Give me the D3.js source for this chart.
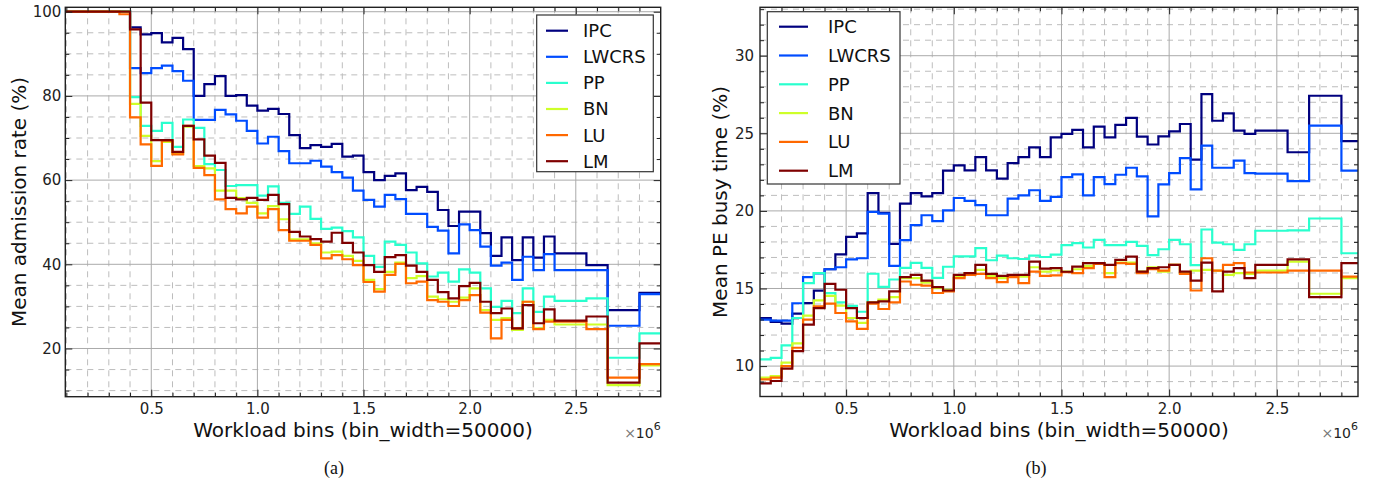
<!DOCTYPE html>
<html>
<head>
<meta charset="utf-8">
<script src="https://cdn.jsdelivr.net/npm/d3@7"></script>
<style>
  body { margin: 0; background: #fff; }
  svg { display: block; }
  .tick text { font-family: "DejaVu Sans", sans-serif; fill: #222; }
</style>
</head>
<body>
<svg width="1375" height="485"></svg>
<script>
// bin start of each step, in units of 1e6 (bin_width = 50000)
var bins = [0.10,0.15,0.20,0.25,0.30,0.35,0.40,0.45,0.50,0.55,0.60,0.65,0.70,0.75,0.80,0.85,0.90,0.95,
  1.00,1.05,1.10,1.15,1.20,1.25,1.30,1.35,1.40,1.45,1.50,1.55,1.60,1.65,1.70,1.75,1.80,1.85,1.90,1.95,
  2.00,2.05,2.10,2.15,2.20,2.25,2.30,2.35,2.40,2.45,2.50,2.55,2.60,2.65,2.70,2.75,2.80,2.85];

var seriesNames = ["IPC", "LWCRS", "PP", "BN", "LU", "LM"];

// (a) mean admission rate (%)
var admIPC = [100,100,100,100,100,100, 96.3,94.6,94.9,92.7,93.8,91.1,80.0,82.8,84.7,80.0,
  80.2,77.7,76.5,76.9,75.7,70.7,67.6,68.3,67.9,68.6, 65.6,65.8,61.9,60.0,61.0,61.6,57.6,58.4,57.2,52.9,
  49.1,52.5,52.5,47.4,42.0,46.4,41.0,46.4,41.6,46.6, 42.6,42.6,42.6,39.8,39.8,29.1,29.1,29.1,33.2,33.2];
var admLWCRS = [100,100,100,100,100,100, 86.6,85.4,86.6,87.2,85.9,83.6,74.3,74.3,76.7,75.6,
  74.1,71.7,68.7,70.3,66.9,64.0,64.0,64.6,63.2,61.9, 60.6,57.5,55.3,53.7,56.5,55.5,52.0,52.0,48.9,48.0,
  42.6,49.5,48.1,44.2,39.7,40.4,36.3,41.8,38.6,42.4, 38.6,38.6,38.6,38.6,38.6,25.4,25.4,25.4,32.9,32.9];
var admPP = [100,100,100,100,100,100, 79.7,72.9,71.7,73.6,67.9,74.4,72.4,63.8,62.4,58.6,
  58.8,58.8,56.3,58.5,54.6,52.0,53.7,50.8,48.4,48.7, 47.9,46.4,42.0,39.4,45.4,44.6,42.8,40.2,37.1,38.0,
  35.9,38.8,38.0,34.3,29.9,31.3,28.4,34.3,28.7,32.3, 31.3,31.3,31.3,31.9,31.9,17.8,17.8,17.8,23.6,23.6];
var admBN = [100,100,100,100,100,100, 78.1,70.5,64.5,69.1,66.2,72.7,63.3,62.8,57.5,57.5,
  55.7,54.6,52.1,53.8,50.7,45.9,45.9,45.0,42.8,43.0, 42.0,40.8,36.3,34.1,38.2,40.4,36.7,37.2,32.3,31.7,
  31.1,32.1,34.3,29.1,26.8,27.2,24.4,31.1,24.8,26.8, 25.7,25.7,25.7,25.7,25.7,11.3,11.3,11.3,16.0,16.0];
var admLU = [100,100,100,100,100,99.4, 74.9,68.5,63.4,69.4,66.1,72.9,62.9,61.2,55.4,53.1,
  52.1,53.7,51.1,53.1,48.1,45.6,45.6,44.6,41.4,42.2, 41.2,39.8,35.8,33.5,37.5,40.1,35.5,35.9,31.5,31.1,
  30.1,31.5,32.7,28.5,22.4,26.8,24.8,31.1,24.6,26.4, 26.4,26.4,26.4,24.6,24.6,13.1,13.1,13.1,16.3,16.3];
var admLM = [100,100,100,100,100,100, 95.8,78.4,69.5,69.5,66.7,72.9,69.7,65.8,64.1,55.8,
  55.4,55.8,55.3,56.5,54.3,47.7,46.6,46.0,45.4,47.5, 45.1,42.8,39.8,38.2,41.7,42.2,39.7,38.2,36.3,33.4,
  31.9,34.8,35.6,31.1,28.4,29.5,24.8,30.3,26.0,29.3, 26.6,26.6,26.6,27.6,27.6,11.9,11.9,11.9,21.2,21.2];

// (b) mean PE busy time (%)
var busyIPC = [13.1,12.85,12.74,13.38,14.06,14.86,16.24,17.2,18.33,18.55, 21.15,19.87,17.87,20.47,21.15,20.94,21.15,22.6,
  22.93,22.61,23.46,22.61,22.08,23.08,23.46,24.1,23.46,24.74, 24.96,25.22,24.1,25.43,24.74,25.54,25.99,24.79,24.28,24.8,
  25.13,25.6,23.3,27.53,25.81,26.28,25.17,24.96,25.17,25.17, 25.17,23.78,23.78,27.42,27.42,27.42,24.49,24.49];
var busyLWCRS = [13.0,12.93,12.93,14.05,15.73,15.98,16.24,16.37,16.88,16.95, 19.94,19.83,16.46,18.12,19.08,19.72,19.34,20.04,
  20.83,20.64,20.37,19.72,19.72,20.79,21.0,21.33,20.64,20.9, 22.18,22.35,21.0,22.18,21.72,22.33,22.78,22.22,19.65,21.71,
  22.44,23.4,21.39,24.21,22.78,22.78,23.24,22.44,22.4,22.4, 22.4,21.92,21.92,25.49,25.49,25.49,22.6,22.6];
var busyPP = [10.43,10.53,11.33,13.1,15.35,15.99,14.7,14.1,13.88,13.5, 15.95,15.1,15.58,16.33,16.65,16.33,15.68,16.4,
  17.07,17.07,17.6,16.82,17.12,16.95,16.9,17.12,17.03,17.18, 17.8,17.92,17.64,18.13,17.79,17.79,18.0,17.74,17.15,17.53,
  18.13,17.85,16.5,18.8,17.96,17.85,17.49,17.85,18.72,18.72, 18.72,18.75,18.75,19.51,19.51,19.51,17.27,17.27];
var busyBN = [9.26,9.36,10.22,11.46,13.25,14.23,14.53,13.89,13.1,12.78, 14.1,14.28,14.45,15.67,15.67,15.38,15.03,14.92,
  15.77,15.99,16.2,15.81,15.67,15.77,15.77,16.37,16.09,16.16, 16.09,16.24,16.46,16.63,15.99,16.67,16.67,16.09,16.37,16.09,
  16.52,15.99,16.15,16.2,16.15,15.88,15.99,15.94,16.15,16.15, 16.15,16.73,16.73,14.66,14.66,14.66,15.67,15.67];
var busyLU = [9.15,9.26,10.0,11.18,12.99,13.85,14.02,13.42,12.88,12.4, 14.02,13.68,14.1,15.45,15.24,15.19,14.71,14.81,
  15.67,15.88,15.94,15.67,15.41,15.73,15.35,16.09,15.81,15.85, 16.06,15.99,16.31,16.58,15.73,16.63,16.58,15.99,16.24,16.15,
  16.52,15.94,14.87,16.95,16.15,16.52,16.63,16.03,16.03,16.03, 16.03,16.15,16.15,16.15,16.15,16.15,15.77,15.77];
var busyLM = [8.89,9.04,9.83,10.96,12.67,13.74,15.3,14.92,13.74,13.1, 14.1,14.17,14.81,15.73,15.88,15.51,15.09,14.87,
  15.88,15.99,16.52,15.94,15.81,15.88,15.88,16.73,16.28,16.31, 16.08,16.41,16.63,16.63,16.52,16.84,17.05,16.09,16.31,16.37,
  16.52,16.09,15.51,16.67,14.81,16.09,16.31,15.67,16.52,16.52, 16.52,16.88,16.88,14.45,14.45,14.45,16.63,16.63];

// tick labels
var xTicks = [0.5, 1.0, 1.5, 2.0, 2.5];
var admTicks = [20, 40, 60, 80, 100];
var busyTicks = [10, 15, 20, 25, 30];

// jet colours, one per series
var colors = ["#00007f", "#004cff", "#29ffce", "#ceff29", "#ff6800", "#7f0000"];

var svg = d3.select("svg");

function drawPanel(cfg) {
    var w = cfg.right - cfg.left,
        h = cfg.bottom - cfg.top;

    var x = d3.scaleLinear().domain(cfg.xDomain).range([0, w]);
    var y = d3.scaleLinear().domain(cfg.yDomain).range([h, 0]);

    var g = svg.append("g")
        .attr("transform", "translate(" + cfg.left + "," + cfg.top + ")");

    // minor / major tick positions
    var xMinor = d3.range(1, 30).map(function(i) { return i / 10; })
        .filter(function(v) { return v > cfg.xDomain[0] && v < cfg.xDomain[1] && xTicks.indexOf(v) < 0; });
    var yMinor = d3.range(Math.ceil(cfg.yDomain[0] / cfg.yMinorStep), Math.floor(cfg.yDomain[1] / cfg.yMinorStep) + 1)
        .map(function(i) { return i * cfg.yMinorStep; })
        .filter(function(v) { return cfg.yTicks.indexOf(v) < 0; });

    // dashed minor grid
    g.selectAll(".gx-minor").data(xMinor).enter().append("line")
        .attr("x1", x).attr("x2", x).attr("y1", 0).attr("y2", h)
        .style("stroke", "#bdbdbd").style("stroke-dasharray", "6,5");
    g.selectAll(".gy-minor").data(yMinor).enter().append("line")
        .attr("x1", 0).attr("x2", w).attr("y1", y).attr("y2", y)
        .style("stroke", "#bdbdbd").style("stroke-dasharray", "6,5");

    // solid major grid
    g.selectAll(".gx").data(xTicks).enter().append("line")
        .attr("x1", x).attr("x2", x).attr("y1", 0).attr("y2", h)
        .style("stroke", "#aaaaaa");
    g.selectAll(".gy").data(cfg.yTicks).enter().append("line")
        .attr("x1", 0).attr("x2", w).attr("y1", y).attr("y2", y)
        .style("stroke", "#aaaaaa");

    // step lines, the last step runs to the right edge
    var line = d3.line()
        .curve(d3.curveStepAfter)
        .x(function(d) { return x(d[0]); })
        .y(function(d) { return y(d[1]); });

    cfg.series.forEach(function(vals, k) {
        var pts = bins.map(function(b, i) { return [i === 0 ? cfg.xDomain[0] : b, vals[i]]; });
        pts.push([cfg.xDomain[1], vals[vals.length - 1]]);
        g.append("path")
            .datum(pts)
            .attr("d", line)
            .style("fill", "none")
            .style("stroke", colors[k])
            .style("stroke-width", 2.2)
            .style("stroke-linejoin", "miter");
    });

    // frame
    g.append("rect")
        .attr("width", w).attr("height", h)
        .style("fill", "none").style("stroke", "#222").style("stroke-width", 1.4);

    // inward ticks on all four sides
    function ticks(axis, tr, vals, size, labels, pad) {
        var a = g.append("g").attr("transform", tr)
            .call(axis.tickValues(vals).tickSizeInner(-size).tickSizeOuter(0)
                .tickPadding(pad || 3)
                .tickFormat(labels ? d3.format(labels) : ""));
        a.select(".domain").remove();
        a.selectAll("line").style("stroke", "#222").style("stroke-width", 1);
        a.selectAll("text").attr("font-size", 15);
        return a;
    }
    ticks(d3.axisBottom(x), "translate(0," + h + ")", xTicks, 7, ".1f", 7);
    ticks(d3.axisBottom(x), "translate(0," + h + ")", xMinor, 4);
    ticks(d3.axisTop(x), "translate(0,0)", xTicks, 7);
    ticks(d3.axisTop(x), "translate(0,0)", xMinor, 4);
    ticks(d3.axisLeft(y), "translate(0,0)", cfg.yTicks, 7, "d", cfg.yPad);
    ticks(d3.axisLeft(y), "translate(0,0)", yMinor, 4);
    ticks(d3.axisRight(y), "translate(" + w + ",0)", cfg.yTicks, 7);
    ticks(d3.axisRight(y), "translate(" + w + ",0)", yMinor, 4);

    // axis titles
    svg.append("text")
        .attr("x", (cfg.left + cfg.right) / 2)
        .attr("y", 437)
        .attr("text-anchor", "middle")
        .style("font-family", "DejaVu Sans, sans-serif")
        .style("font-size", "20px")
        .style("fill", "#111")
        .text("Workload bins (bin_width=50000)");

    svg.append("text")
        .attr("transform", "translate(" + cfg.yTitleX + "," + ((cfg.top + cfg.bottom) / 2) + ") rotate(-90)")
        .attr("text-anchor", "middle")
        .style("font-family", "DejaVu Sans, sans-serif")
        .style("font-size", "20px")
        .style("fill", "#111")
        .text(cfg.yTitle);

    // offset text x10^6
    var off = svg.append("text")
        .attr("x", cfg.right)
        .attr("y", 438)
        .attr("text-anchor", "end")
        .style("font-family", "DejaVu Sans, sans-serif")
        .style("font-size", "14px")
        .style("fill", "#222");
    off.append("tspan").style("fill", "#777").text("\u00d7");
    off.append("tspan").text("10");
    off.append("tspan").attr("dy", -8).style("font-size", "11px").text("6");

    // caption
    svg.append("text")
        .attr("x", cfg.captionX)
        .attr("y", 474)
        .attr("text-anchor", "middle")
        .style("font-family", "Liberation Serif, serif")
        .style("font-size", "18px")
        .style("fill", "#111")
        .text(cfg.caption);

    // legend
    var lg = svg.append("g");
    lg.append("rect")
        .attr("x", cfg.legend.x).attr("y", cfg.legend.y)
        .attr("width", cfg.legend.w).attr("height", cfg.legend.h)
        .style("fill", "#fff").style("stroke", "#333").style("stroke-width", 1.2);
    seriesNames.forEach(function(name, k) {
        var ly = cfg.legend.first + k * cfg.legend.step;
        lg.append("line")
            .attr("x1", cfg.legend.lx1).attr("x2", cfg.legend.lx2)
            .attr("y1", ly).attr("y2", ly)
            .style("stroke", colors[k]).style("stroke-width", 2.2);
        lg.append("text")
            .attr("x", cfg.legend.tx)
            .attr("y", ly)
            .attr("dy", "0.36em")
            .style("font-family", "DejaVu Sans, sans-serif")
            .style("font-size", "18px")
            .style("fill", "#111")
            .text(name);
    });
}

drawPanel({
    left: 65.3, right: 660.7, top: 7.3, bottom: 396.7,
    xDomain: [0.095, 2.9], yDomain: [8.55, 101.05],
    yTicks: admTicks, yMinorStep: 5, yPad: 4,
    series: [admIPC, admLWCRS, admPP, admBN, admLU, admLM],
    yTitle: "Mean admission rate (%)", yTitleX: 26,
    caption: "(a)", captionX: 334,
    legend: {x: 536.7, y: 15, w: 116.6, h: 156.7, first: 30.7, step: 26.1, lx1: 546, lx2: 568, tx: 583}
});

drawPanel({
    left: 760, right: 1358, top: 7.3, bottom: 396.5,
    xDomain: [0.1, 2.877], yDomain: [8.04, 33.12],
    yTicks: busyTicks, yMinorStep: 1, yPad: 6,
    series: [busyIPC, busyLWCRS, busyPP, busyBN, busyLU, busyLM],
    yTitle: "Mean PE busy time (%)", yTitleX: 727,
    caption: "(b)", captionX: 1036,
    legend: {x: 767.3, y: 11.7, w: 132.7, h: 172.3, first: 26.7, step: 28.8, lx1: 779, lx2: 808, tx: 828}
});
</script>
</body>
</html>
